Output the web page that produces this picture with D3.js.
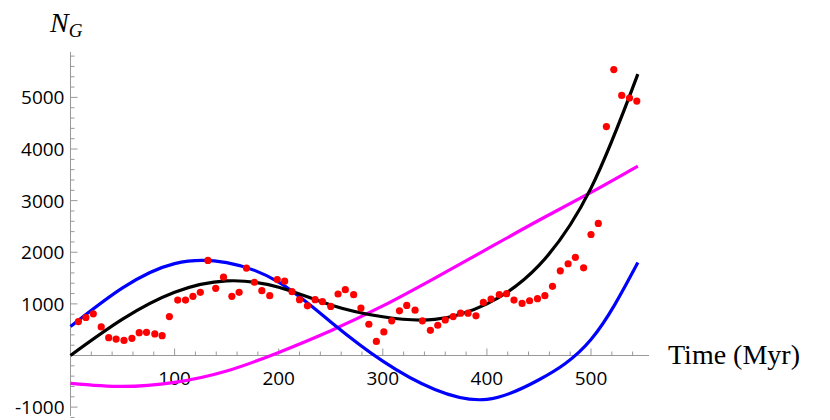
<!DOCTYPE html>
<html><head><meta charset="utf-8">
<script src="https://cdn.jsdelivr.net/npm/d3@7"></script>
<style>body{margin:0;background:#fff}</style></head>
<body><svg id="c" width="830" height="420"></svg>
<script>
const dataT=[7.6,14.8,21.9,29.5,36.7,43.8,51.4,59,66,73,81,88,95,103,110.5,117.6,124.7,132,139.5,147,155,162,169,176.7,183.8,191.4,198.6,205.7,212.8,220,227.6,235,242,250,257,264,272,279,286.6,293.8,301,308.6,316,323,331,338,345.7,352.8,360,367.6,374.7,381.9,389.5,396.6,404,411.9,419,426,433.8,441,448.6,455.7,463,470.5,478,485,492.9,500,507,514.8,521.9,529.5,537,544];
const dataV=[658,736,807,553,345,319,293,332,443,449,417,384,755,1074,1074,1146,1224,1842,1302,1517,1146,1224,1693,1419,1256,1159,1471,1439,1237,1081,963,1081,1042,951,1191,1276,1178,918,605,273,456,671,866,970,879,671,488,586,690,755,820,820,768,1029,1094,1178,1198,1074,1009,1061,1100,1159,1341,1641,1777,1901,1699,2344,2559,4434,5540,5039,4987,4928];
const fitT=[0,50,100,150,200,250,300,350,400,450,500,545];
const blackV=[0,703,1224,1445,1322,980,750,700,1000,1745,3242,5450];
const blueT=[0,50,100,150,200,250,300,350,400,450,500,545];
const blueV=[560,1310,1780,1800,1420,650,-110,-660,-850,-470,310,1800];
const magT=[0,50,100,150,200,250,300,350,400,450,500,545];
const magV=[-540,-600,-520,-300,60,480,960,1500,2060,2620,3160,3670];
const yTicks=[-1000,1000,2000,3000,4000,5000];
const xTicks=[100,200,300,400,500];

const svg=d3.select("#c");
const x=d3.scaleLinear().domain([0,500]).range([70.5,591]);
const y=d3.scaleLinear().domain([0,5000]).range([355.5,97.4]);
const gray="#999";
svg.append("line").attr("x1",x(0)).attr("x2",649).attr("y1",y(0)).attr("y2",y(0)).attr("stroke",gray);
svg.append("line").attr("x1",x(0)).attr("x2",x(0)).attr("y1",52).attr("y2",416).attr("stroke",gray);
d3.range(20,560,20).forEach(v=>{const maj=v%100===0;
 svg.append("line").attr("x1",x(v)).attr("x2",x(v)).attr("y1",y(0)).attr("y2",y(0)-(maj?7:4)).attr("stroke",gray);});
d3.range(-1200,5801,200).filter(v=>v!==0).forEach(v=>{const maj=v%1000===0;
 svg.append("line").attr("x1",x(0)).attr("x2",x(0)+(maj?7:4)).attr("y1",y(v)).attr("y2",y(v)).attr("stroke",gray);});
xTicks.forEach(v=>svg.append("text").attr("x",x(v)).attr("y",y(0)+29).attr("text-anchor","middle")
 .attr("font-family","Open Sans, sans-serif").attr("font-size",19).text(v));
yTicks.forEach(v=>svg.append("text").attr("x",x(0)-6).attr("y",y(v)+7).attr("text-anchor","end")
 .attr("font-family","Open Sans, sans-serif").attr("font-size",19).text(v===-1000?"-1000":v));
svg.append("text").attr("x",668).attr("y",364).attr("font-family","Liberation Serif, serif").attr("font-size",28).text("Time (Myr)");
const ng=svg.append("text").attr("x",50).attr("y",32).attr("font-family","Liberation Serif, serif").attr("font-style","italic").attr("font-size",28);
ng.append("tspan").text("N");ng.append("tspan").attr("font-size",19).attr("dy",5).text("G");
const line=d3.line().x(d=>x(d[0])).y(d=>y(d[1])).curve(d3.curveNatural);
const draw=(T,V,c)=>svg.append("path").attr("d",line(T.map((t,i)=>[t,V[i]]))).attr("fill","none").attr("stroke",c).attr("stroke-width",3.2);
draw(magT,magV,"#ff00ff");
draw(blueT,blueV,"#0000ff");
draw(fitT,blackV,"#000");
svg.selectAll("circle").data(dataT).join("circle").attr("cx",d=>x(d)).attr("cy",(d,i)=>y(dataV[i])).attr("r",3.6).attr("fill","#ff0000");
</script></body></html>
